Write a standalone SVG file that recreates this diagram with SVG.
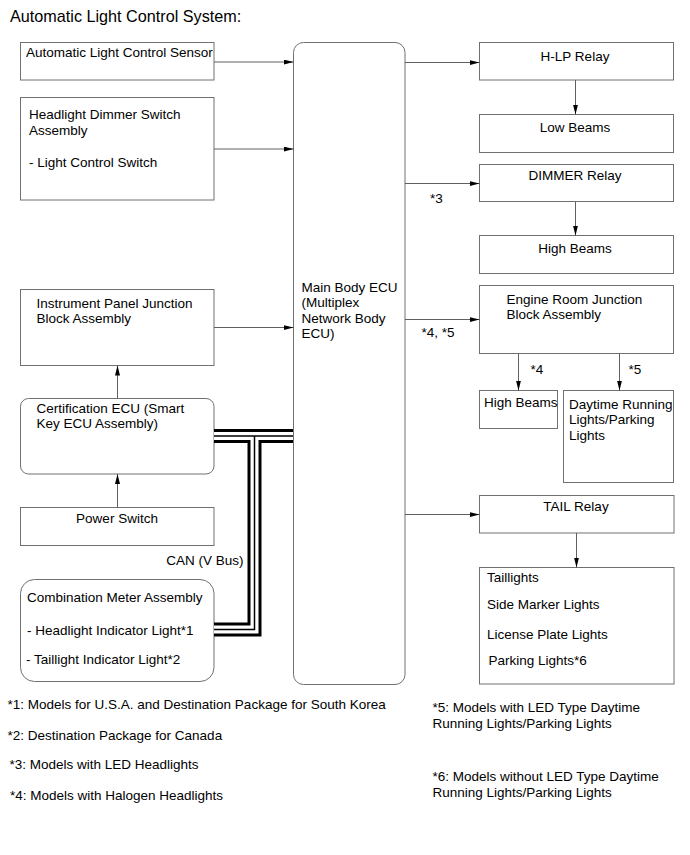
<svg xmlns="http://www.w3.org/2000/svg" width="690" height="855" viewBox="0 0 690 855">
<defs>
<marker id="ah" markerUnits="userSpaceOnUse" markerWidth="10" markerHeight="5" refX="10" refY="2.5" orient="auto">
<path d="M0,0 L10,2.5 L0,5 z" fill="#000"/>
</marker>
<style>
.box{fill:#fff;stroke:#707070;stroke-width:1}
.t{font-family:"Liberation Sans",Arial,sans-serif;font-size:13.5px;fill:#000}
.c{text-anchor:middle}
.ln{stroke:#606060;stroke-width:1;fill:none;marker-end:url(#ah)}
.fn{font-family:"Liberation Sans",Arial,sans-serif;font-size:13.5px;fill:#000}
</style>
</defs>
<rect width="690" height="855" fill="#fff"/>
<text x="10" y="22" font-family="Liberation Sans, Arial, sans-serif" font-size="16.2" fill="#000">Automatic Light Control System:</text>

<g id="sensor"><rect class="box" x="20.5" y="42.5" width="193.5" height="37.5"/><text class="t" x="26" y="57">Automatic Light Control Sensor</text></g>
<g id="dimmer-switch"><rect class="box" x="20.5" y="97.5" width="193.5" height="102.5"/><text class="t" x="29" y="119">Headlight Dimmer Switch</text><text class="t" x="29" y="135">Assembly</text><text class="t" x="29" y="167">- Light Control Switch</text></g>
<g id="ipjb"><rect class="box" x="20.5" y="289.5" width="193.5" height="76"/><text class="t" x="36.5" y="307.5">Instrument Panel Junction</text><text class="t" x="36.5" y="323">Block Assembly</text></g>
<g id="cert-ecu"><rect class="box" x="20.5" y="398.5" width="193.5" height="75.5" rx="8"/><text class="t" x="36.5" y="412.5">Certification ECU (Smart</text><text class="t" x="36.5" y="428">Key ECU Assembly)</text></g>
<g id="power-switch"><rect class="box" x="20.5" y="507.5" width="193.5" height="38"/><text class="t c" x="117" y="523">Power Switch</text></g>
<g id="combo-meter"><rect class="box" x="20.5" y="579.5" width="193.5" height="102" rx="14"/><text class="t" x="27" y="601.5">Combination Meter Assembly</text><text class="t" x="27" y="635">- Headlight Indicator Light*1</text><text class="t" x="26" y="664">- Taillight Indicator Light*2</text></g>
<text class="t" x="243.5" y="565" text-anchor="end">CAN (V Bus)</text>

<g id="main-ecu"><rect class="box" x="293.5" y="42.5" width="111.5" height="642" rx="10"/><text class="t" x="301.5" y="291.5">Main Body ECU</text><text class="t" x="301.5" y="307">(Multiplex</text><text class="t" x="301.5" y="322.5">Network Body</text><text class="t" x="301.5" y="338">ECU)</text></g>

<g id="hlp-relay"><rect class="box" x="479.5" y="42.5" width="194" height="37.5"/><text class="t c" x="575" y="61">H-LP Relay</text></g>
<g id="low-beams"><rect class="box" x="479.5" y="114.5" width="194" height="38"/><text class="t c" x="575" y="132">Low Beams</text></g>
<g id="dimmer-relay"><rect class="box" x="479.5" y="164.5" width="194" height="37"/><text class="t c" x="575" y="180">DIMMER Relay</text></g>
<g id="high-beams"><rect class="box" x="479.5" y="235.5" width="194" height="38"/><text class="t c" x="575" y="253">High Beams</text></g>
<g id="erjb"><rect class="box" x="479.5" y="285.5" width="194" height="68"/><text class="t" x="506.5" y="303.5">Engine Room Junction</text><text class="t" x="506.5" y="319">Block Assembly</text></g>
<g id="high-beams-2"><rect class="box" x="479.5" y="390.5" width="78" height="38"/><text class="t" x="484" y="407">High Beams</text></g>
<g id="drl"><rect class="box" x="563.5" y="390.5" width="110" height="92"/><text class="t" x="569" y="408.5">Daytime Running</text><text class="t" x="569" y="424">Lights/Parking</text><text class="t" x="569" y="440">Lights</text></g>
<g id="tail-relay"><rect class="box" x="479.5" y="495.5" width="194.5" height="37.5"/><text class="t c" x="576" y="511">TAIL Relay</text></g>
<g id="taillights"><rect class="box" x="479.5" y="567.5" width="194.5" height="116.5"/><text class="t" x="487" y="582">Taillights</text><text class="t" x="487" y="608.5">Side Marker Lights</text><text class="t" x="487" y="638.5">License Plate Lights</text><text class="t" x="488.5" y="665">Parking Lights*6</text></g>

<g id="connectors">
<path class="ln" d="M214,62 H293.5"/>
<path class="ln" d="M214,149 H293.5"/>
<path class="ln" d="M214,327.5 H293.5"/>
<path class="ln" d="M117.5,398.5 V365.5"/>
<path class="ln" d="M117.5,507.5 V474"/>
<path class="ln" d="M405,62.5 H479.5"/>
<path class="ln" d="M575.5,80 V114.5"/>
<path class="ln" d="M405,183.5 H479.5"/>
<path class="ln" d="M575.5,201.5 V235.5"/>
<path class="ln" d="M405,319.5 H479.5"/>
<path class="ln" d="M518.5,353.5 V390.5"/>
<path class="ln" d="M619.5,353.5 V390.5"/>
<path class="ln" d="M405,514.5 H479.5"/>
<path class="ln" d="M576.5,533 V567.5"/>
<g id="can-bus" fill="none" stroke-linejoin="miter">
<path d="M214,436 H293 M254.5,436 V629.5 H214" stroke="#000" stroke-width="14"/>
<path d="M214,436 H293 M254.5,436 V629.5 H214" stroke="#fff" stroke-width="8"/>
<path d="M214,436 H293 M254.5,436 V629.5 H214" stroke="#000" stroke-width="1.5"/>
</g>
</g>
<text class="t" x="430" y="203">*3</text>
<text class="t" x="421.5" y="337">*4, *5</text>
<text class="t" x="530.5" y="374">*4</text>
<text class="t" x="628.5" y="374">*5</text>

<g id="footnotes">
<text class="fn" x="7.5" y="709">*1: Models for U.S.A. and Destination Package for South Korea</text>
<text class="fn" x="7.5" y="740">*2: Destination Package for Canada</text>
<text class="fn" x="9.5" y="769">*3: Models with LED Headlights</text>
<text class="fn" x="10" y="799.5">*4: Models with Halogen Headlights</text>
<text class="fn" x="432.5" y="711.5">*5: Models with LED Type Daytime</text>
<text class="fn" x="432.5" y="727.5">Running Lights/Parking Lights</text>
<text class="fn" x="432.5" y="780.5">*6: Models without LED Type Daytime</text>
<text class="fn" x="432.5" y="796.5">Running Lights/Parking Lights</text>
</g>
</svg>
